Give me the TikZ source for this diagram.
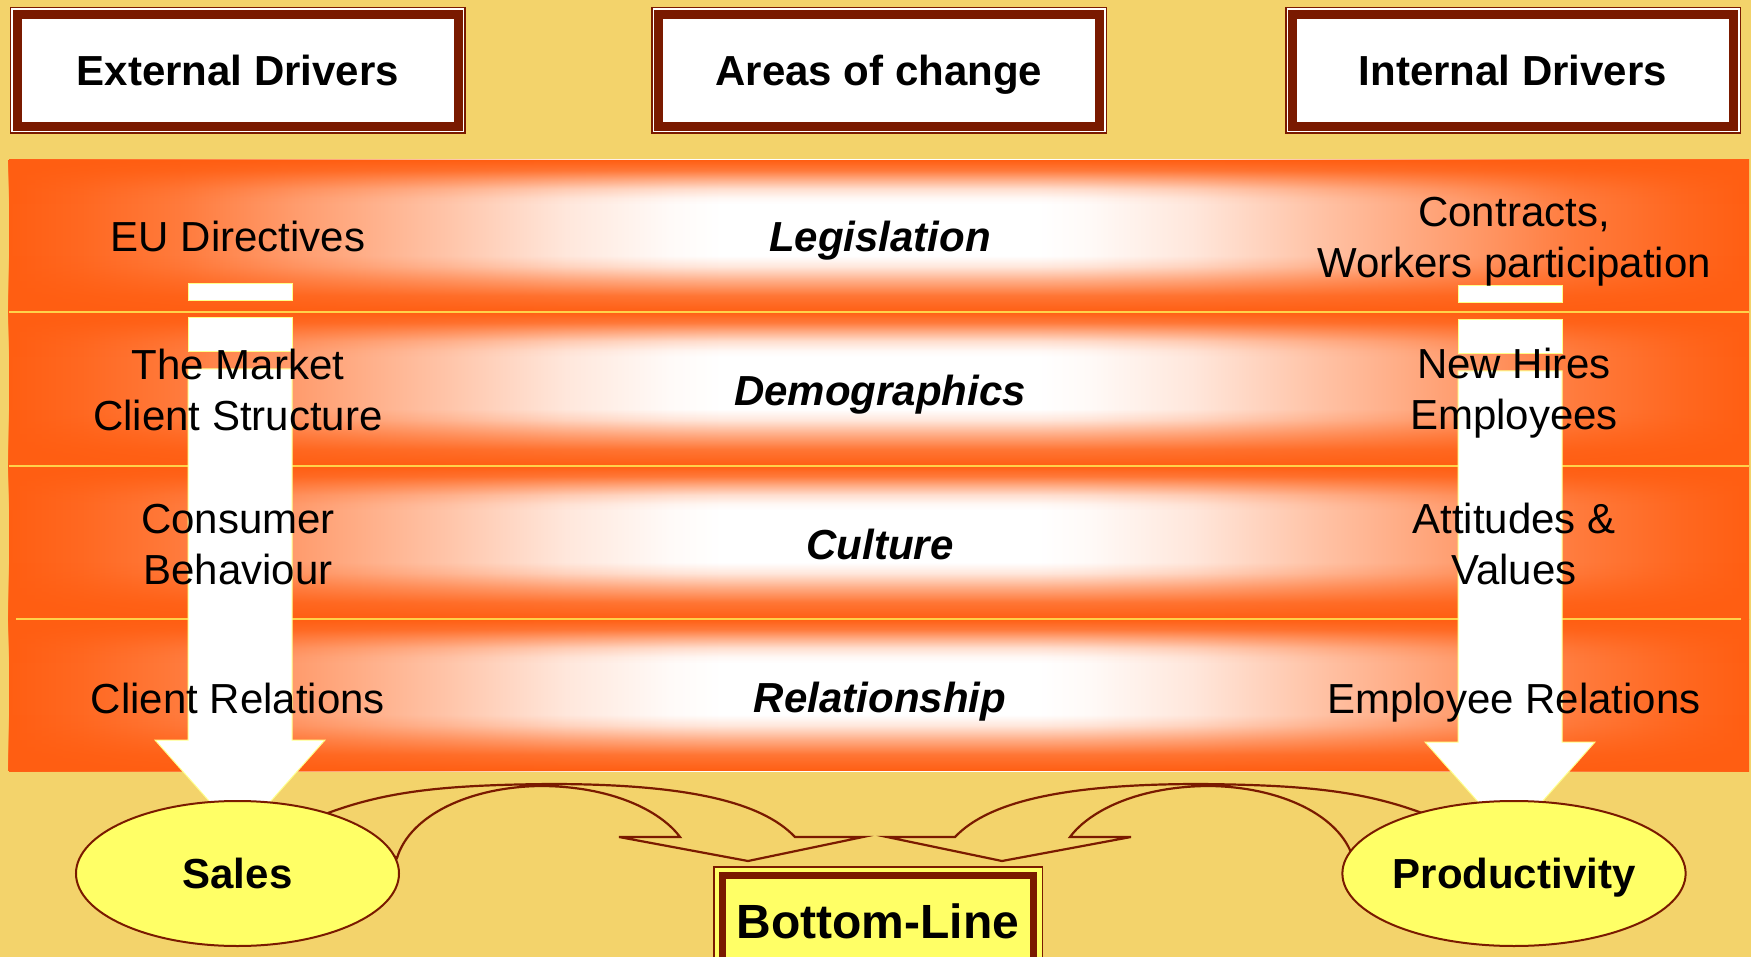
\documentclass[tikz,border=0pt]{standalone}
\usepackage{fontspec}
\setmainfont{Liberation Sans}
\usetikzlibrary{shapes.geometric,fadings}
\definecolor{bg}{HTML}{F3D36B}
\definecolor{dred}{HTML}{7A1A00}
\definecolor{org}{HTML}{FF5E12}
\definecolor{ellfill}{HTML}{FFFF66}
\definecolor{sepline}{HTML}{FFD24A}
\definecolor{arrline}{HTML}{FFFF88}
\pgfdeclarehorizontalshading{rowh}{100bp}{color(0bp)=(org); color(25bp)=(org); color(27bp)=(org!94!white); color(30bp)=(org!82!white); color(33.5bp)=(org!60!white); color(37.5bp)=(org!37!white); color(41bp)=(org!15!white); color(44bp)=(org!3!white); color(45.5bp)=(white); color(54.5bp)=(white); color(56bp)=(org!3!white); color(59bp)=(org!15!white); color(62.5bp)=(org!37!white); color(66.5bp)=(org!60!white); color(70bp)=(org!82!white); color(73bp)=(org!94!white); color(75bp)=(org); color(100bp)=(org)}
\pgfdeclareverticalshading{rowv}{100bp}{color(0bp)=(white); color(25bp)=(white); color(30.5bp)=(black!15!white); color(35.5bp)=(black!50!white); color(40bp)=(black!85!white); color(43.5bp)=(black); color(60.5bp)=(black); color(62.5bp)=(black!96!white); color(65.5bp)=(black!80!white); color(68.5bp)=(black!50!white); color(71.5bp)=(black!18!white); color(75bp)=(white); color(100bp)=(white)}
\pgfdeclarefading{rowfade}{\pgfuseshading{rowv}}
\tikzset{
  hdrbox/.style={rectangle, draw=dred, line width=9pt, fill=white, inner sep=0pt, outer sep=0pt,
    minimum width=440.5pt, minimum height=111.3pt, text height=30pt, text depth=0pt,
    font=\fontsize{42}{50}\selectfont\bfseries,
    preaction={draw=dred, line width=15.5pt}, preaction={draw=white, line width=12.5pt}},
  botbox/.style={rectangle, draw=dred, line width=7pt, fill=ellfill, inner sep=0pt, outer sep=0pt,
    minimum width=311pt, minimum height=90pt, text height=35pt, text depth=0pt,
    font=\fontsize{48}{56}\selectfont\bfseries,
    preaction={draw=dred, line width=19pt}, preaction={draw=ellfill, line width=16pt}},
  oval/.style={ellipse, draw=dred, line width=2pt, fill=ellfill, inner sep=0pt,
    minimum width=323pt, minimum height=145pt, text height=30pt, text depth=0pt,
    font=\fontsize{42}{50}\selectfont\bfseries},
  sidetxt/.style={align=center, font=\fontsize{42}{51}\selectfont, inner sep=0pt},
  areatxt/.style={anchor=base, inner sep=0pt, font=\fontsize{42}{51}\selectfont\bfseries\itshape},
  downarrow/.style={fill=white, draw=arrline, line width=1pt},
  curvarrow/.style={draw=dred, line width=2.2pt, line join=miter},
  sepstyle/.style={draw=sepline, line width=1.5pt}
}
\begin{document}
\begin{tikzpicture}[x=1pt, y=-1pt]
\useasboundingbox (0,0) rectangle (1751,957);
\fill[bg] (0,0) rectangle (1751,957);

% header boxes
\node[hdrbox] (ext) at (237.75,70.4) {External Drivers};
\node[hdrbox] (areas) at (879,70.4) {Areas of change};
\node[hdrbox] (int) at (1513,70.4) {Internal Drivers};

% shaded rows
\foreach \ya/\yb in {160/312, 312/466, 466/619, 619/771} {
  \shade[shading=rowh] (9,\ya) rectangle (1749,\yb);
  \fill[org, path fading=rowfade, fit fading=true] (9,\ya) rectangle (1749,\yb);
}
\draw[sepstyle] (9,312) -- (1749,312);
\draw[sepstyle] (9,466) -- (1749,466);
\draw[sepstyle] (16,619) -- (1741,619);

% striped down arrows
\begin{scope}
  \filldraw[downarrow] (188,284) rectangle (292,301);
  \filldraw[downarrow] (188,318) rectangle (292,352);
  \filldraw[downarrow] (188,369) -- (292,369) -- (292,740) -- (325,740) -- (240,836) -- (155,740) -- (188,740) -- cycle;
\end{scope}
\begin{scope}[shift={(1270,2)}]
  \filldraw[downarrow] (188,284) rectangle (292,301);
  \filldraw[downarrow] (188,318) rectangle (292,352);
  \filldraw[downarrow] (188,369) -- (292,369) -- (292,740) -- (325,740) -- (240,836) -- (155,740) -- (188,740) -- cycle;
\end{scope}

% curved arrows towards the bottom line
\draw[curvarrow] (328,813) .. controls (390,790) and (450,785) .. (550,784)
  .. controls (680,784) and (760,800) .. (795,837) -- (863,837) -- (748,861) -- (619,837) -- (680,837)
  .. controls (660,810) and (610,786) .. (540,786) .. controls (470,787) and (410,815) .. (397,858) -- cycle;
\draw[curvarrow] (1422,813) .. controls (1360,790) and (1300,785) .. (1200,784)
  .. controls (1070,784) and (990,800) .. (955,837) -- (887,837) -- (1002,861) -- (1131,837) -- (1070,837)
  .. controls (1090,810) and (1140,786) .. (1210,786) .. controls (1280,787) and (1340,815) .. (1353,858) -- cycle;

% ovals and bottom line
\node[oval] (sales) at (237.5,873.5) {Sales};
\node[oval] (prod) at (1514,873.5) {Productivity};
\node[botbox] (bottom) at (878,920.5) {Bottom-Line};

% row texts, left
\node[sidetxt, anchor=base] (eu) at (238,252) {EU Directives};
\node[sidetxt] (market) at (238,389.6) {The Market\\Client Structure};
\node[sidetxt] (consumer) at (238,544.1) {Consumer\\Behaviour};
\node[sidetxt, anchor=base] (clientrel) at (238,713) {Client Relations};
% row texts, centre
\node[areatxt] (legis) at (880,252) {Legislation};
\node[areatxt] (demo) at (880,406) {Demographics};
\node[areatxt] (cult) at (880,559) {Culture};
\node[areatxt] (relat) at (880,712) {Relationship};
% row texts, right
\node[sidetxt] (contracts) at (1514,241.2) {Contracts,\\Workers participation};
\node[sidetxt] (hires) at (1514,393.2) {New Hires\\Employees};
\node[sidetxt] (attit) at (1514,544.1) {Attitudes \&\\Values};
\node[sidetxt, anchor=base] (emprel) at (1514,713) {Employee Relations};
\end{tikzpicture}
\end{document}
